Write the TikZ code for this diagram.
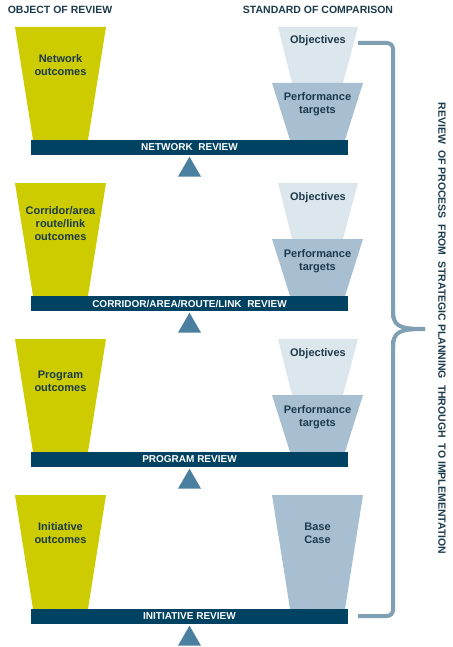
\documentclass[tikz,border=0pt]{standalone}
\usepackage{fontspec}
\setmainfont{Liberation Sans}
\usepackage{tikz}
\usetikzlibrary{positioning, shapes.geometric}
\definecolor{cupgreen}{HTML}{CCCC00}
\definecolor{objblue}{HTML}{DCE6ED}
\definecolor{perfblue}{HTML}{A7BFD1}
\definecolor{barblue}{HTML}{004262}
\definecolor{pivotblue}{HTML}{4A7FA0}
\definecolor{braceblue}{HTML}{7F9FB3}
\definecolor{inkblue}{HTML}{1D3A4C}

\begin{document}
\begin{tikzpicture}[
    x=1pt, y=-1pt,
    txt/.style={align=center, text=inkblue, font=\fontsize{11}{13}\selectfont\bfseries, inner sep=0pt},
    head/.style={text=inkblue, font=\fontsize{10.5}{12}\selectfont\bfseries, inner sep=0pt},
    bar/.style={rectangle, fill=barblue, minimum width=317pt, minimum height=15pt, inner sep=0pt, text=white, font=\fontsize{10}{11}\selectfont\bfseries},
    pivot/.style={regular polygon, regular polygon sides=3, fill=pivotblue, minimum size=26.6pt, inner sep=0pt, outer sep=0pt},
    brace/.style={draw=braceblue, line width=4pt, rounded corners=6pt},
]
\useasboundingbox (0,0) rectangle (452,647);

\node[head] (objhead) at (60,10) {OBJECT OF REVIEW};
\node[head] (stdhead) at (318,10) {STANDARD OF COMPARISON};

% network review
\fill[cupgreen] (15,27) -- (106,27) -- (88,140) -- (33,140) -- cycle;
\fill[objblue] (278,27) -- (358,27) -- (343,83) -- (292,83) -- cycle;
\fill[perfblue] (272,83) -- (363,83) -- (345,140) -- (290,140) -- cycle;
\node[txt] (netout) at (60.5,65.5) {Network\\outcomes};
\node[txt] (netobj) at (318,41) {Objectives};
\node[txt] (netperf) at (317.5,104.5) {Performance\\targets};
\node[bar] (netbar) at (189.5,147.5) {NETWORK\ \ REVIEW};
\node[pivot, below=1.5pt of netbar] (netpivot) {};

% corridor review
\fill[cupgreen] (15,183) -- (106,183) -- (88,296) -- (33,296) -- cycle;
\fill[objblue] (278,183) -- (358,183) -- (343,239) -- (292,239) -- cycle;
\fill[perfblue] (272,239) -- (363,239) -- (345,296) -- (290,296) -- cycle;
\node[txt] (corout) at (60.5,224) {Corridor/area\\route/link\\outcomes};
\node[txt] (corobj) at (318,198) {Objectives};
\node[txt] (corperf) at (317.5,261.5) {Performance\\targets};
\node[bar] (corbar) at (189.5,303.5) {CORRIDOR/AREA/ROUTE/LINK\ \ REVIEW};
\node[pivot, below=1.5pt of corbar] (corpivot) {};

% program review
\fill[cupgreen] (15,339) -- (106,339) -- (88,452) -- (33,452) -- cycle;
\fill[objblue] (278,339) -- (358,339) -- (343,395) -- (292,395) -- cycle;
\fill[perfblue] (272,395) -- (363,395) -- (345,452) -- (290,452) -- cycle;
\node[txt] (proout) at (60.5,381.5) {Program\\outcomes};
\node[txt] (proobj) at (318,354) {Objectives};
\node[txt] (properf) at (317.5,417.5) {Performance\\targets};
\node[bar] (probar) at (189.5,459.5) {PROGRAM REVIEW};
\node[pivot, below=1.5pt of probar] (propivot) {};

% initiative review
\fill[cupgreen] (15,495) -- (106,495) -- (88,609) -- (33,609) -- cycle;
\fill[perfblue] (272,495) -- (363,495) -- (345,609) -- (290,609) -- cycle;
\node[txt] (iniout) at (60.5,533.5) {Initiative\\outcomes};
\node[txt] (inibase) at (317.5,533.5) {Base\\Case};
\node[bar] (inibar) at (189.5,616.5) {INITIATIVE REVIEW};
\node[pivot, below=1.5pt of inibar] (inipivot) {};

% brace
\coordinate (bracetop) at (358,43);
\coordinate (bracetip) at (425,329);
\coordinate (bracebot) at (358,616);
\draw[brace] (bracetop) -- (393,43) -- (393,318);
\draw[brace] (393,310) .. controls (393,326) and (398,329) .. (bracetip);
\draw[brace] (bracetip) .. controls (398,329) and (393,332) .. (393,348);
\draw[brace] (393,340) -- (393,616) -- (bracebot);
\node[head, rotate=-90, font=\fontsize{10.5}{12}\selectfont\bfseries] (reviewtext) at (442,328.5)
    {REVIEW\ \ OF PROCESS\ \ FROM\ \ STRATEGIC PLANNING\ \ THROUGH\ \ TO IMPLEMENTATION};

\end{tikzpicture}
\end{document}
